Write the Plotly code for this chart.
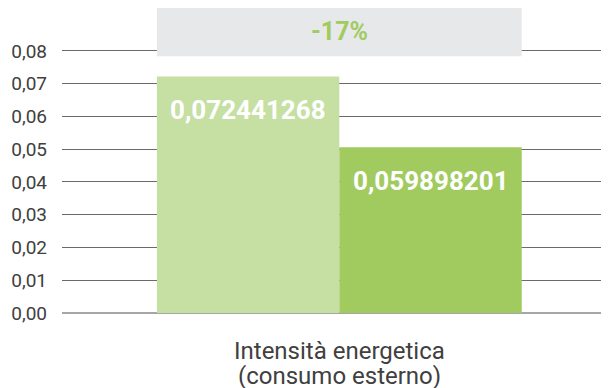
from plotly import graph_objects as go

# values (bar heights as drawn, labels as printed)
category = ["Intensità energetica<br>(consumo esterno)"]
series_names = ["Anno 1", "Anno 2"]
bar_heights = [0.0722, 0.0506]
bar_labels = ["0,072441268", "0,059898201"]
bar_colors = ["#c6e0a4", "#a1cb5f"]
delta_label = "-17%"

BARGAP = 0.333
FONT = "Roboto"

fig = go.Figure()
for name, h, col in zip(series_names, bar_heights, bar_colors):
    fig.add_trace(go.Bar(
        x=category, y=[h], name=name,
        marker=dict(color=col, line=dict(width=0)),
        hoverinfo="skip",
    ))

# value labels inside the bars
half = (1 - BARGAP) / 2
for i, (h, txt) in enumerate(zip(bar_heights, bar_labels)):
    fig.add_annotation(
        x=-half / 2 + i * half, y=h, xref="x", yref="y",
        text=f"<b>{txt}</b>", showarrow=False, yshift=-34,
        font=dict(family=FONT, size=26, color="white"),
    )

# grey band with the percentage change
fig.add_shape(
    type="rect", xref="x", yref="y",
    x0=-half, x1=half, y0=0.0784, y1=0.0931,
    fillcolor="#e7e8e9", line=dict(width=0), layer="above",
)
fig.add_annotation(
    x=0, y=0.0858, xref="x", yref="y", text=f"<b>{delta_label}</b>",
    showarrow=False, font=dict(family=FONT, size=25, color="#a1cb5f"),
)

# category label, drawn line by line (tighter line spacing than plotly's ticks)
for j, line in enumerate(category[0].split("<br>")):
    fig.add_annotation(
        x=0, y=0, xref="x", yref="paper", text=line, showarrow=False,
        yanchor="middle", yshift=-38 - 25 * j,
        font=dict(family=FONT, size=24, color="#404040"),
    )

# the page body adds 8px around the figure, so the figure is 8px smaller
fig.update_layout(
    width=601, height=380,
    margin=dict(l=54, r=0, t=0, b=75),
    barmode="group", bargap=BARGAP, bargroupgap=0,
    showlegend=False,
    separators=",.",
    plot_bgcolor="white", paper_bgcolor="white",
    font=dict(family=FONT, color="#404040"),
)
fig.update_xaxes(
    range=[-0.507, 0.493], showgrid=False, zeroline=False, showline=False,
    ticks="", showticklabels=False, automargin=False,
)
fig.update_yaxes(
    range=[0, 0.0931], tickvals=[0, 0.01, 0.02, 0.03, 0.04, 0.05, 0.06, 0.07, 0.08],
    tickformat=".2f", showgrid=True, gridcolor="#6a6a6a", gridwidth=1.4,
    zeroline=True, zerolinecolor="#a6a6a6", zerolinewidth=2,
    showline=False, ticks="", ticklabelstandoff=14,
    tickfont=dict(size=19, color="#404040"), automargin=False,
)

fig.write_html("out.html")
